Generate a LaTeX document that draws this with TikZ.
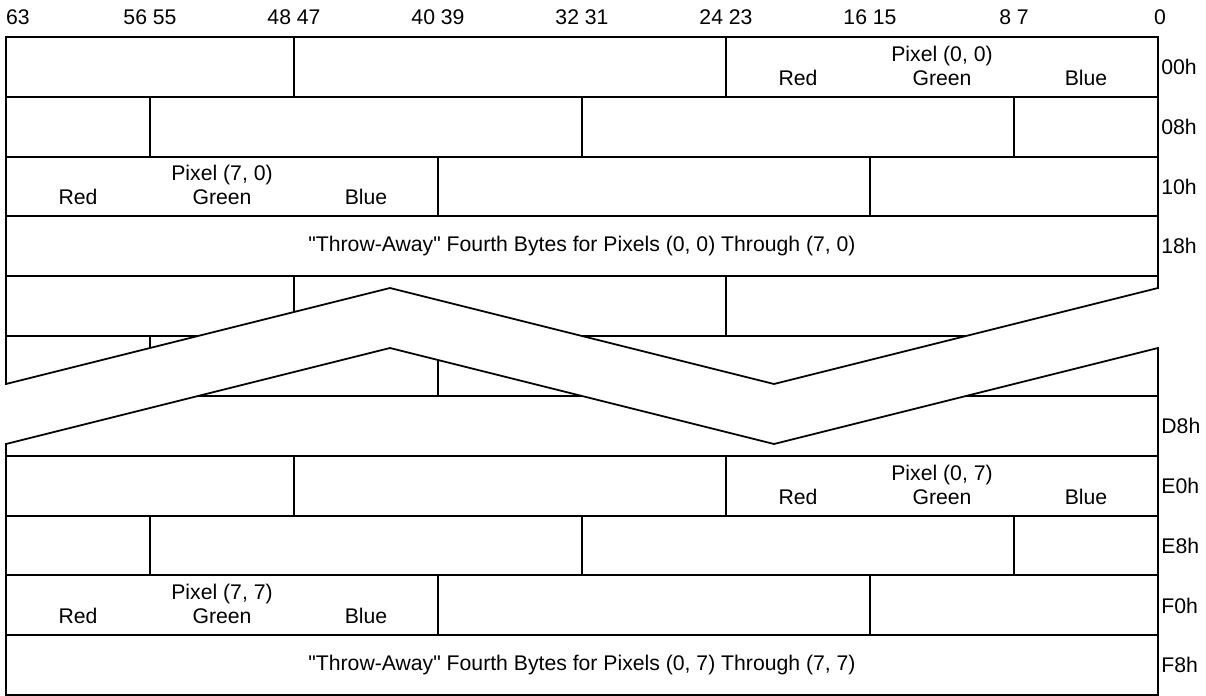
\documentclass[tikz,border=0pt]{standalone}
\usepackage{fontspec}
\setmainfont{Liberation Sans}
\begin{document}
\begin{tikzpicture}[x=0.5pt,y=-0.5pt,
  ln/.style={line width=0.9pt,line cap=rect},
  lbl/.style={inner sep=0pt,font=\fontsize{10.6}{12}\selectfont},
  hdr/.style={lbl,anchor=center},
  rowlbl/.style={lbl,anchor=west}]
\useasboundingbox (0,0) rectangle (1206,696);
% header bit numbers
\node[hdr] (h63) at (18,17) {63};
\node[hdr] (h56) at (150,17) {56 55};
\node[hdr] (h48) at (294,17) {48 47};
\node[hdr] (h40) at (438,17) {40 39};
\node[hdr] (h32) at (582,17) {32 31};
\node[hdr] (h24) at (726,17) {24 23};
\node[hdr] (h16) at (870,17) {16 15};
\node[hdr] (h8) at (1014,17) {8 7};
\node[hdr] (h0) at (1160,17) {0};
% outer border
\draw[ln] (6,384) -- (6,37) -- (1158,37) -- (1158,288);
\draw[ln] (1158,348) -- (1158,695) -- (6,695) -- (6,444);
% break zigzags
\draw[ln,line cap=butt] (6,384) -- (390,288) -- (774,384) -- (1158,288);
\draw[ln,line cap=butt] (6,444) -- (390,348) -- (774,444) -- (1158,348);
% horizontal row lines
\foreach \y in {97,157,216,276,456,516,575,635}
  \draw[ln] (6,\y) -- (1158,\y);
\draw[ln,line cap=butt] (6,336) -- (198,336);
\draw[ln,line cap=butt] (582,336) -- (966,336);
\draw[ln,line cap=butt] (198,396) -- (582,396);
\draw[ln,line cap=butt] (966,396) -- (1158,396);
% vertical dividers
\foreach \x in {294,726} \draw[ln] (\x,37) -- (\x,97);
\foreach \x in {150,582,1014} \draw[ln] (\x,97) -- (\x,157);
\foreach \x in {438,870} \draw[ln] (\x,157) -- (\x,216);
\draw[ln,line cap=butt] (294,276) -- (294,312);
\draw[ln] (726,276) -- (726,336);
\draw[ln,line cap=butt] (150,336) -- (150,348);
\draw[ln,line cap=butt] (438,360) -- (438,396);
\foreach \x in {294,726} \draw[ln] (\x,456) -- (\x,516);
\foreach \x in {150,582,1014} \draw[ln] (\x,516) -- (\x,575);
\foreach \x in {438,870} \draw[ln] (\x,575) -- (\x,635);
% row texts
\node[hdr] (p00) at (942,56) {Pixel (0, 0)};
\node[hdr] (r00) at (798,78) {Red};
\node[hdr] (g00) at (942,78) {Green};
\node[hdr] (b00) at (1086,78) {Blue};
\node[hdr] (p70) at (222,175) {Pixel (7, 0)};
\node[hdr] (r70) at (78,197) {Red};
\node[hdr] (g70) at (222,197) {Green};
\node[hdr] (b70) at (366,197) {Blue};
\node[hdr] (t0) at (582,246) {\textquotedbl Throw-Away\textquotedbl{} Fourth Bytes for Pixels (0, 0) Through (7, 0)};
\node[hdr] (p07) at (942,475) {Pixel (0, 7)};
\node[hdr] (r07) at (798,497) {Red};
\node[hdr] (g07) at (942,497) {Green};
\node[hdr] (b07) at (1086,497) {Blue};
\node[hdr] (p77) at (222,594) {Pixel (7, 7)};
\node[hdr] (r77) at (78,616) {Red};
\node[hdr] (g77) at (222,616) {Green};
\node[hdr] (b77) at (366,616) {Blue};
\node[hdr] (t7) at (582,665) {\textquotedbl Throw-Away\textquotedbl{} Fourth Bytes for Pixels (0, 7) Through (7, 7)};
% row offsets
\node[rowlbl] (o00) at (1161,67) {00h};
\node[rowlbl] (o08) at (1161,127) {08h};
\node[rowlbl] (o10) at (1161,187) {10h};
\node[rowlbl] (o18) at (1161,246) {18h};
\node[rowlbl] (oD8) at (1161,426) {D8h};
\node[rowlbl] (oE0) at (1161,486) {E0h};
\node[rowlbl] (oE8) at (1161,546) {E8h};
\node[rowlbl] (oF0) at (1161,606) {F0h};
\node[rowlbl] (oF8) at (1161,665) {F8h};
\end{tikzpicture}
\end{document}
